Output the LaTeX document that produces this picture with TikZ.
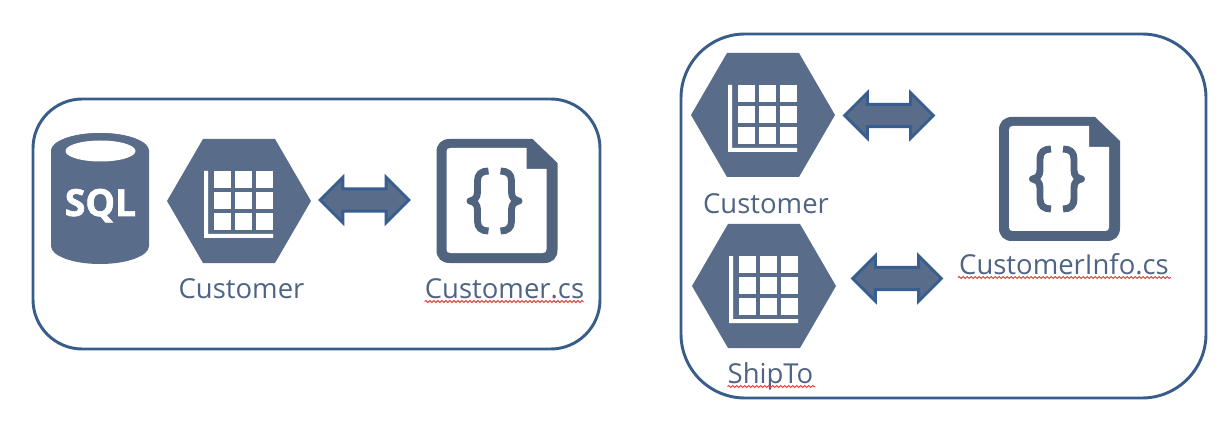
\documentclass[tikz,border=0pt]{standalone}
\usepackage{fontspec}
\setmainfont{Open Sans}
\newfontfamily\sqlfont[BoldFeatures={FakeBold=1.6}]{Open Sans}
\usetikzlibrary{shapes.arrows,decorations.pathmorphing}
\definecolor{icon}{HTML}{596D8B}
\definecolor{docc}{HTML}{51647F}
\definecolor{edge}{HTML}{385D8A}
\definecolor{label}{HTML}{4F6484}
\definecolor{arrowfill}{HTML}{596D8B}
\definecolor{arrowedge}{HTML}{385D8F}
\definecolor{squig}{HTML}{F04040}
\tikzset{
  x=0.75pt,y=-0.75pt,
  panel/.style={draw=edge,line width=2.2pt,fill=white},
  lab/.style={text=label,font=\fontsize{20.6pt}{24pt}\selectfont,inner sep=0pt,anchor=base},
  blockarrow/.style={shape=double arrow,draw=arrowedge,line width=2.2pt,fill=arrowfill,
    minimum height=66.5pt,minimum width=34pt,inner sep=7pt,
    double arrow head extend=8.5pt,double arrow tip angle=90},
  squiggle/.style={draw=squig,line width=0.75pt,decorate,decoration={snake,amplitude=0.7pt,segment length=3pt}},
  bracepath/.style={draw=docc,line width=5.2pt,line join=round},
  tablehex/.pic={
    \fill[icon] (-36,-62) -- (36,-62) -- (72,0) -- (36,62) -- (-36,62) -- (-72,0) -- cycle;
    \fill[white] (-35,-30) -- (-31,-30) -- (-31,33) -- (34,33) -- (34,37) -- (-35,37) -- cycle;
    \foreach \cx in {-25,-4,17}\foreach \cy in {-30,-9,12}
      \fill[white] (\cx,\cy) rectangle ++(17,17);
  },
  codedoc/.pic={
    \fill[docc] (36,-62) -- (-47,-62) .. controls (-55,-62) and (-60,-57) .. (-60,-49)
      -- (-60,49) .. controls (-60,57) and (-55,62) .. (-47,62)
      -- (48,62) .. controls (56,62) and (61,57) .. (61,49) -- (61,-38) -- cycle;
    \fill[white] (30,-53) -- (-46,-53) .. controls (-49,-53) and (-50,-52) .. (-50,-49)
      -- (-50,48) .. controls (-50,51) and (-49,52) .. (-46,52)
      -- (46,52) .. controls (49,52) and (50,51) .. (50,48) -- (50,-32) -- (30,-32) -- cycle;
    \draw[bracepath] (-8,-30) .. controls (-15,-30) and (-19,-27) .. (-19,-20) -- (-19,-9)
      .. controls (-19,-3) and (-22,-1) .. (-26.5,0) .. controls (-22,1) and (-19,3) .. (-19,9)
      -- (-19,20) .. controls (-19,27) and (-15,30) .. (-8,30);
    \draw[bracepath] (4,-30) .. controls (11,-30) and (15,-27) .. (15,-20) -- (15,-9)
      .. controls (15,-3) and (18,-1) .. (22.5,0) .. controls (18,1) and (15,3) .. (15,9)
      -- (15,20) .. controls (15,27) and (11,30) .. (4,30);
  },
}
\begin{document}
\begin{tikzpicture}
\useasboundingbox (0,0) rectangle (1232,424);
% panels
\draw[panel,rounded corners=37pt] (33,99) rectangle (600,349);
\draw[panel,rounded corners=48pt] (681,34) rectangle (1206,398);
% SQL cylinder
\fill[icon] (51,151) arc[x radius=49,y radius=18,start angle=180,end angle=360]
  -- (149,246) arc[x radius=49,y radius=18,start angle=0,end angle=180] -- cycle;
\fill[icon] (100,151) ellipse[x radius=49,y radius=18];
\fill[white] (100.5,151) ellipse[x radius=35,y radius=10.5];
\node[text=white,inner sep=0pt,anchor=base,font=\fontsize{28pt}{30pt}\sqlfont\bfseries] (sql) at (100.5,216) {SQL};
% icons
\pic at (239,201) {tablehex};
\pic at (763,115) {tablehex};
\pic at (764,286) {tablehex};
\pic at (496.5,201) {codedoc};
\pic at (1059,179) {codedoc};
% labels
\node[lab] (c1) at (241.5,298) {Customer};
\node[lab] (cs) at (504.5,298) {Customer.cs};
\node[lab] (c2) at (766,214) {Customer};
\node[lab] (ship) at (770.5,383) {ShipTo};
\node[lab] (ci) at (1064,274) {CustomerInfo.cs};
% spelling underlines
\draw[squiggle] (cs.base west) ++(0,3.5) -- ++(159,0);
\draw[squiggle] (ship.base west) ++(0,3.5) -- ++(88,0);
\draw[squiggle] (ci.base west) ++(-1,3.5) -- ++(213,0);
% block arrows
\node[blockarrow] (a1) at (364.5,200) {};
\node[blockarrow] (a2) at (889,115.5) {};
\node[blockarrow] (a3) at (897,278.5) {};
\end{tikzpicture}
\end{document}
